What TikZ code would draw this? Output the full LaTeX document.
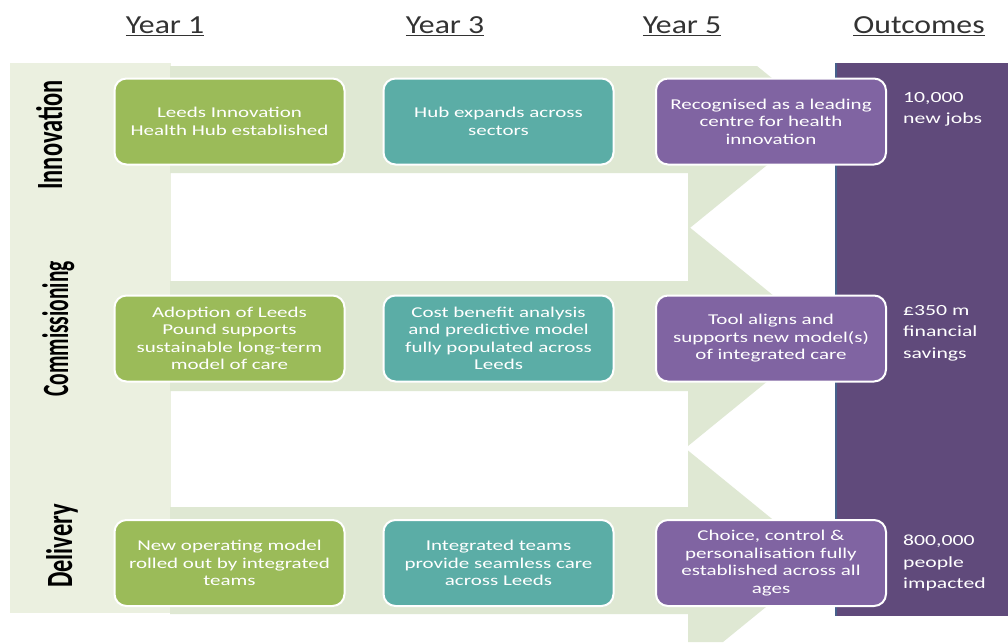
\documentclass[tikz,border=0pt]{standalone}
\usepackage{fontspec}
\setmainfont{Carlito}
\newfontfamily\boxfont[FakeStretch=1.4]{Carlito}
\newfontfamily\headfont[FakeStretch=1.22]{Carlito}
\newfontfamily\rowfont[FakeStretch=0.66]{Carlito}
\newfontfamily\rowfontc[FakeStretch=0.58]{Carlito}
\definecolor{colcol}{HTML}{EBF0E0}
\definecolor{bandcol}{HTML}{DFE8D3}
\definecolor{outcol}{HTML}{604A7B}
\definecolor{outedge}{HTML}{46618C}
\definecolor{ygreen}{HTML}{9BBB59}
\definecolor{yteal}{HTML}{5BADA6}
\definecolor{ypurple}{HTML}{8064A2}
\definecolor{headcol}{HTML}{333333}
\tikzset{
  ybox/.style={draw=white, line width=2pt, rounded corners=12pt, minimum width=230pt,
    minimum height=86pt, inner sep=0pt, align=center, text=white,
    font=\boxfont\fontsize{15}{17.5}\selectfont},
  y1box/.style={ybox, fill=ygreen},
  y3box/.style={ybox, fill=yteal},
  y5box/.style={ybox, fill=ypurple},
  headtxt/.style={anchor=base, text=headcol, inner sep=0pt, font=\headfont\fontsize{26}{30}\selectfont},
  rowlab/.style={anchor=base, rotate=90, inner sep=0pt, text=black, font=\rowfont\bfseries\fontsize{37}{40}\selectfont},
  outtxt/.style={anchor=north west, inner sep=0pt, align=left, text=white,
    font=\boxfont\fontsize{15.5}{21.5}\selectfont}
}
\begin{document}
\begin{tikzpicture}[x=1pt,y=-1pt]
\useasboundingbox (0,0) rectangle (1008,642);
\fill[white] (0,0) rectangle (1008,642);
% left column
\fill[colcol] (10,63) rectangle (171,613);
% arrow bands
\fill[bandcol] (170,66) -- (757,66) -- (823,119.5) -- (688,229.5) -- (688,173) -- (170,173) -- cycle;
\fill[bandcol] (170,281) -- (688,281) -- (688,226) -- (823,336) -- (688,446) -- (688,391) -- (170,391) -- cycle;
\fill[bandcol] (170,507) -- (688,507) -- (688,450.5) -- (823,560.5) -- (723,642) -- (688,642) -- (688,614) -- (170,614) -- cycle;
% outcomes column
\fill[outcol] (836,63) rectangle (1008,616);
\draw[outedge, line width=1.5pt] (836,63) -- (836,616);
% headers
\node[headtxt] (h1) at (165,34) {\underline{Year 1}};
\node[headtxt] (h3) at (445,34) {\underline{Year 3}};
\node[headtxt] (h5) at (682,34) {\underline{Year 5}};
\node[headtxt] (h0) at (919,34) {\underline{Outcomes}};
% row labels
\node[rowlab] (rInn) at (62,135) {Innovation};
\node[rowlab, font=\rowfontc\bfseries\fontsize{37}{40}\selectfont] (rCom) at (68,329) {Commissioning};
\node[rowlab] (rDel) at (72,546) {Delivery};
% boxes
\node[y1box] (b11) at (229.5,121.5) {Leeds Innovation\\Health Hub established};
\node[y3box] (b13) at (498.5,121.5) {Hub expands across\\sectors};
\node[y5box] (b15) at (771,121.5) {Recognised as a leading\\centre for health\\innovation};
\node[y1box] (b21) at (229.5,338.5) {Adoption of Leeds\\Pound supports\\sustainable long-term\\model of care};
\node[y3box] (b23) at (498.5,338.5) {Cost benefit analysis\\and predictive model\\fully populated across\\Leeds};
\node[y5box] (b25) at (771,338.5) {Tool aligns and\\supports new model(s)\\of integrated care};
\node[y1box] (b31) at (229.5,563) {New operating model\\rolled out by integrated\\teams};
\node[y3box] (b33) at (498.5,563) {Integrated teams\\provide seamless care\\across Leeds};
\node[y5box] (b35) at (771,563) {Choice, control \&\\personalisation fully\\established across all\\ages};
% outcomes
\node[outtxt] (o1) at (903,92) {10,000\\new jobs};
\node[outtxt] (o2) at (903,305) {£350 m\\financial\\savings};
\node[outtxt] (o3) at (903,535) {800,000\\people\\impacted};
\end{tikzpicture}
\end{document}
